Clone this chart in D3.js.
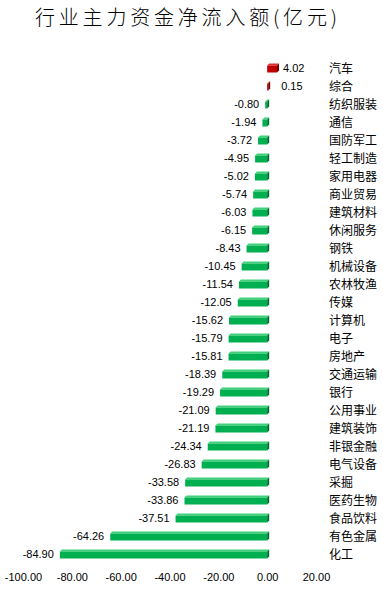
<!DOCTYPE html>
<html><head><meta charset="utf-8">
<script src="https://cdn.jsdelivr.net/npm/d3@7"></script>
<style>body{margin:0;background:#fff}</style>
</head><body><svg id="c" width="383" height="598"></svg>
<script>
const categories = ["汽车","综合","纺织服装","通信","国防军工","轻工制造","家用电器","商业贸易","建筑材料","休闲服务","钢铁","机械设备","农林牧渔","传媒","计算机","电子","房地产","交通运输","银行","公用事业","建筑装饰","非银金融","电气设备","采掘","医药生物","食品饮料","有色金属","化工"];
const values = [4.02,0.15,-0.80,-1.94,-3.72,-4.95,-5.02,-5.74,-6.03,-6.15,-8.43,-10.45,-11.54,-12.05,-15.62,-15.79,-15.81,-18.39,-19.29,-21.09,-21.19,-24.34,-26.83,-33.58,-33.86,-37.51,-64.26,-84.90];
const xTicks = [-100,-80,-60,-40,-20,0,20];
const title = "行业主力资金净流入额(亿元)";

const svg = d3.select("#c");
const x = d3.scaleLinear().domain([-100,20]).range([23,316]);
const y = d3.scaleBand().domain(categories).range([59,563]).paddingInner(0.5).paddingOuter(0.25);
const numFont = "'Liberation Sans', Arial, sans-serif";
const cjkFont = "'Noto Sans CJK SC', sans-serif";

svg.append("text").attr("x",35).attr("y",25).attr("text-anchor","start")
  .attr("font-family",cjkFont).attr("font-size",20).attr("fill","#000").attr("font-weight",300)
  .attr("letter-spacing",3.8).text(title);

const d = 2;
const data = categories.map((c,i)=>({c, v: values[i]}));
const g = svg.append("g");
data.forEach(o=>{
  const x0 = Math.min(x(o.v), x(0)), x1 = Math.max(x(o.v), x(0));
  const w = Math.max(x1-x0, 1);
  const yt = y(o.c), h = y.bandwidth();
  const pos = o.v >= 0;
  const front = pos ? "#c00000" : "#00b050";
  const top = pos ? "#e03030" : "#3fd27a";
  const side = pos ? "#7a0000" : "#006b30";
  const bx1 = x0 + w;
  g.append("path").attr("d",`M${x0},${yt+d}L${x0+d},${yt}L${bx1+d},${yt}L${bx1},${yt+d}Z`).attr("fill",top);
  g.append("rect").attr("x",x0).attr("y",yt+d).attr("width",w).attr("height",h-d).attr("fill",front);
  g.append("path").attr("d",`M${bx1},${yt+d}L${bx1+d},${yt}L${bx1+d},${yt+h-d}L${bx1},${yt+h}Z`).attr("fill",side);
  const cy = yt + h/2 + 4;
  if (pos) {
    g.append("text").attr("x", Math.max(x(o.v), x(0)+8)+6).attr("y",cy)
      .attr("font-family",numFont).attr("font-size",11).attr("fill","#000").text(o.v.toFixed(2));
  } else {
    g.append("text").attr("x", x(o.v)-6).attr("y",cy).attr("text-anchor","end")
      .attr("font-family",numFont).attr("font-size",11).attr("fill","#000").text(o.v.toFixed(2));
  }
  g.append("text").attr("x",329).attr("y",cy+0.5)
    .attr("font-family",cjkFont).attr("font-size",12).attr("fill","#000").text(o.c);
});

const ax = svg.append("g").attr("transform","translate(0,570)")
  .call(d3.axisBottom(x).tickValues(xTicks).tickSize(0).tickFormat(t=>t.toFixed(2)));
ax.select(".domain").remove();
ax.selectAll("text").attr("font-family",numFont).attr("font-size",11).attr("fill","#000").attr("dy","0.71em");
</script></body></html>
